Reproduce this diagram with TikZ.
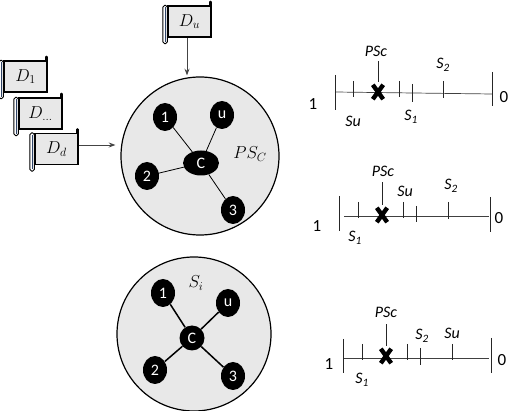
\documentclass[tikz,border=0pt]{standalone}
\usepackage{fontspec}
\setsansfont{Carlito}
\usetikzlibrary{positioning, calc, arrows.meta, shapes.misc, shapes.geometric}
\definecolor{panel}{HTML}{E8E8E8}
\definecolor{curl}{HTML}{2F4468}
\definecolor{feed}{HTML}{444444}

% rolled edge and knob of a scroll
\newcommand{\scrollcurl}[1]{
  \draw[black, fill=white, line width=0.9pt, rounded corners=1.8pt]
    ([xshift=-4.5pt]#1.north west) rectangle ([yshift=-6pt]#1.south west);
  \draw[curl, line width=1pt] ([xshift=-2.2pt,yshift=-2pt]#1.north west) -- ([xshift=-2.2pt,yshift=-4pt]#1.south west);
  \draw[line width=2.6pt, line cap=round] ([xshift=-1pt]#1.north east) -- ++(0,3.5pt);
}

\begin{document}
\begin{tikzpicture}[
    x=1pt, y=-1pt,
    >=Stealth,
    font=\sffamily,
    scrollbox/.style={
        draw,
        line width=1.2pt,
        fill=panel,
        minimum width=43pt,
        minimum height=31pt,
        inner sep=0pt,
        font=\fontsize{17}{20}\selectfont
    },
    bigcircle/.style={
        circle,
        draw,
        line width=1.2pt,
        fill=panel,
        inner sep=0pt,
        minimum size=#1
    },
    member/.style={
        ellipse,
        fill=black,
        text=white,
        inner sep=0pt,
        minimum width=24pt,
        minimum height=28pt,
        font=\sffamily\fontsize{16}{18}\selectfont
    },
    centre/.style={member, minimum width=36pt, minimum height=25pt},
    feedarrow/.style={->, feed, line width=0.8pt},
    axisline/.style={line width=0.7pt, black!75},
    tickmark/.style={line width=0.7pt, black!85},
    mark label/.style={font=\sffamily\itshape\fontsize{16}{18}\selectfont, inner sep=0pt},
    end label/.style={font=\sffamily\fontsize{17}{20}\selectfont, inner sep=0pt},
    name label/.style={font=\fontsize{17}{20}\selectfont, inner sep=0pt},
    psmark/.style={cross out, draw, line width=4.4pt, minimum width=6pt, minimum height=10pt, inner sep=0pt}
]
\useasboundingbox (0,0) rectangle (509,411);

% scrolls
\node[scrollbox] (Du) at (189.5,21.5) {$D_u$};
\node[scrollbox] (D1) at (25.5,76.5) {$D_1$};
\node[scrollbox] (Dm) at (40.5,113.5) {$D_{\dots}$};
\node[scrollbox] (Dd) at (56.5,149) {$D_d$};
\scrollcurl{Du}
\scrollcurl{D1}
\scrollcurl{Dm}
\scrollcurl{Dd}

% upper cluster
\node[bigcircle=158pt] (PS) at (200,156) {};
\node[name label] (PSname) at (250,154) {$PS_C$};
\node[centre] (C1) at (201,163) {C};
\node[member] (N1) at (165,117) {1};
\node[member] (Nu) at (222,115) {u};
\node[member] (N2) at (147,176) {2};
\node[member] (N3) at (233,210) {3};
\draw[line width=0.8pt] (C1) -- (N1);
\draw[line width=0.8pt] (C1) -- (Nu);
\draw[line width=0.8pt] (C1) -- (N2);
\draw[line width=0.8pt] (C1) -- (N3);

\draw[feedarrow, shorten >=1pt] ([xshift=-2.5pt]Du.south) -- ([xshift=-2.5pt]Du.south |- PS.north);
\draw[feedarrow, shorten >=5pt] ([yshift=4pt]Dd.east) -- ([yshift=4pt]Dd.east -| PS.west);

% lower cluster
\node[bigcircle=154pt] (SI) at (194,334) {};
\node[name label] (SIname) at (196,283) {$S_i$};
\node[member, minimum width=25pt, minimum height=25pt] (C2) at (192,338) {C};
\node[member] (M1) at (163,293) {1};
\node[member] (Mu) at (228,303) {u};
\node[member] (M2) at (155,370) {2};
\node[member] (M3) at (233,376) {3};
\draw[line width=1.5pt] (C2) -- (M1);
\draw[line width=1.5pt] (C2) -- (Mu);
\draw[line width=1.5pt] (C2) -- (M2);
\draw[line width=1.5pt] (C2) -- (M3);

% first scale
\coordinate (A1) at (335,92);
\coordinate (B1) at (492,94);
\draw[axisline] (A1) -- (B1);
\draw[tickmark] (335,75) -- (335,110);
\draw[tickmark] (492,72) -- (492,106);
\draw[tickmark] (353,81) -- (353,97);
\draw[tickmark] (399,81) -- (399,97);
\draw[tickmark] (412,84) -- (412,102);
\draw[tickmark] (443,81) -- (443,98);
\node[psmark] (X1) at (378,92) {};
\node[mark label] (P1) at (376,51) {PSc};
\coordinate (Q1) at ($(X1.north |- P1.south)+(0,5)$);
\draw[tickmark, shorten >=3pt] (Q1) -- (X1.north);
\node[mark label] (S2a) at (443,65) {S\textsubscript{2}};
\node[mark label] (S1a) at (411,117) {S\textsubscript{1}};
\node[mark label] (Sua) at (353,121) {Su};
\node[end label] (Oa) at (313,104) {1};
\node[end label] (Za) at (504,97) {0};

% second scale
\coordinate (A2) at (344,216);
\coordinate (B2) at (489,216);
\draw[axisline] (A2) -- (B2);
\draw[tickmark] (339,196) -- (339,231);
\draw[tickmark] (490,197) -- (490,232);
\draw[tickmark] (358,202) -- (358,218);
\draw[tickmark] (403,202) -- (403,218);
\draw[tickmark] (416,206) -- (416,222);
\draw[tickmark] (448,202) -- (448,219);
\node[psmark] (X2) at (382,215) {};
\node[mark label] (P2) at (383,171) {PSc};
\coordinate (Q2) at ($(X2.north |- P2.south)+(0,6)$);
\draw[tickmark, shorten >=3pt] (Q2) -- (X2.north);
\node[mark label] (Sub) at (405,191) {Su};
\node[mark label] (S2b) at (451,186) {S\textsubscript{2}};
\node[mark label] (S1b) at (355,238) {S\textsubscript{1}};
\node[end label] (Ob) at (317,226) {1};
\node[end label] (Zb) at (499,218) {0};

% third scale
\coordinate (A3) at (343,358);
\coordinate (B3) at (489,358);
\draw[axisline] (A3) -- (B3);
\draw[tickmark] (343,339) -- (343,373);
\draw[tickmark] (491,338) -- (491,373);
\draw[tickmark] (362,344) -- (362,360);
\draw[tickmark] (407,344) -- (407,360);
\draw[tickmark] (420,348) -- (420,365);
\draw[tickmark] (452,344) -- (452,360);
\node[psmark] (X3) at (386,356) {};
\node[mark label] (P3) at (386,312) {PSc};
\coordinate (Q3) at ($(X3.north |- P3.south)+(0,7)$);
\draw[tickmark, shorten >=3pt] (Q3) -- (X3.north);
\node[mark label] (S2c) at (422,336) {S\textsubscript{2}};
\node[mark label] (Suc) at (452,333) {Su};
\node[mark label] (S1c) at (362,380) {S\textsubscript{1}};
\node[end label] (Oc) at (329,364) {1};
\node[end label] (Zc) at (502,360) {0};

\end{tikzpicture}
\end{document}
